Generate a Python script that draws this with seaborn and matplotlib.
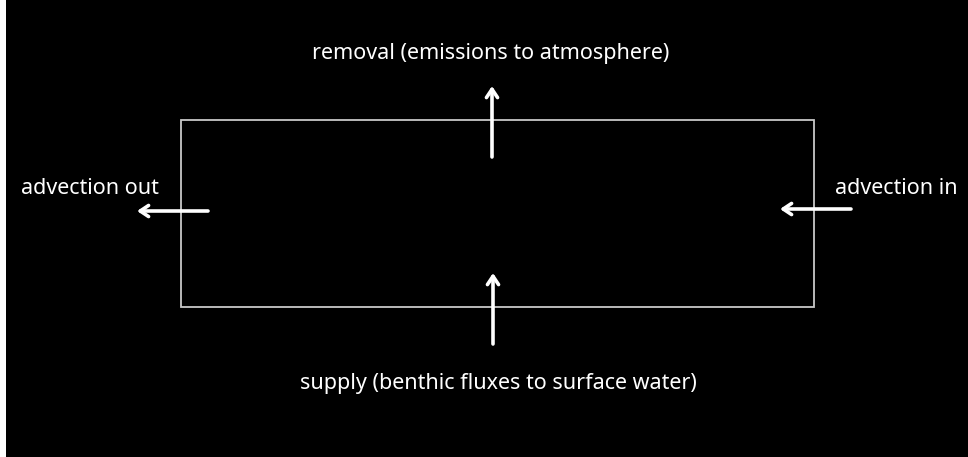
import matplotlib
matplotlib.use("Agg")
import matplotlib.pyplot as plt
from matplotlib.patches import Rectangle
import seaborn as sns

# flux labels of the box model
top_label = "removal (emissions to atmosphere)"
bottom_label = "supply (benthic fluxes to surface water)"
left_label = "advection out"
right_label = "advection in"

sns.set_style("dark", {"axes.facecolor": "black", "figure.facecolor": "white"})
plt.rcParams["font.family"] = ["Noto Sans", "DejaVu Sans"]

W, H = 968, 457
fig = plt.figure(figsize=(W / 100, H / 100), dpi=100)
# black panel, thin white strip on the left like the reference
ax = fig.add_axes([6 / W, 0, 1 - 6 / W, 1])
ax.set_xlim(6, W)
ax.set_ylim(H, 0)
ax.set_xticks([])
ax.set_yticks([])
sns.despine(ax=ax, left=True, bottom=True)

# the box
ax.add_patch(Rectangle((181, 120), 633, 187, fill=False,
                       edgecolor="#c8c8c8", lw=1.3))

arrow = dict(arrowstyle="->,head_length=0.6,head_width=0.4",
             color="white", lw=2.6, shrinkA=0, shrinkB=0)
ax.annotate("", xy=(492, 86), xytext=(492, 157), arrowprops=arrow)
ax.annotate("", xy=(493, 273), xytext=(493, 344), arrowprops=arrow)
ax.annotate("", xy=(137, 211), xytext=(208, 211), arrowprops=arrow)
ax.annotate("", xy=(780, 209), xytext=(851, 209), arrowprops=arrow)

txt = dict(color="white", fontsize=15.5, va="center", fontweight="medium")
ax.text(491, 54, top_label, ha="center", **txt)
ax.text(498, 383, bottom_label, ha="center", **txt)
ax.text(90, 188, left_label, ha="center", **txt)
ax.text(896, 188, right_label, ha="center", **txt)

fig.savefig("out.png", dpi=100, facecolor="white")
